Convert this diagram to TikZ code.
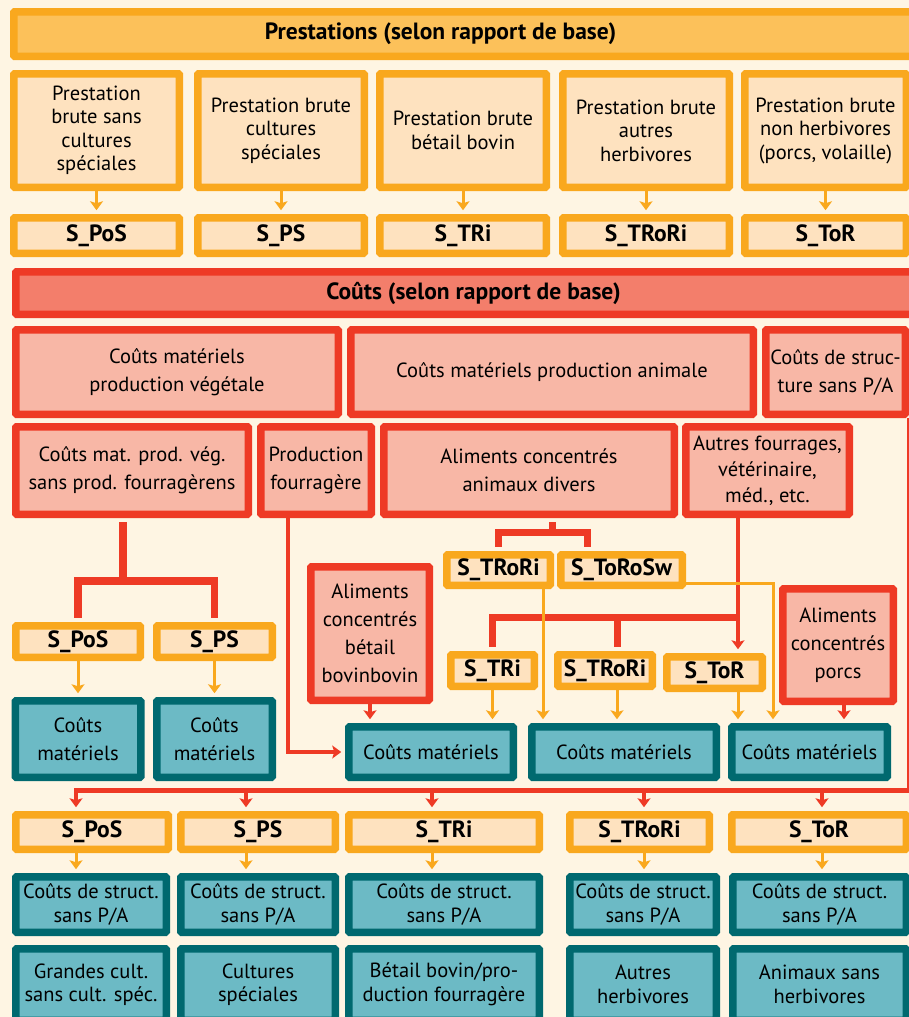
\documentclass[tikz,border=0pt]{standalone}
\usepackage{fontspec}
\setmainfont{PT Sans}
\usetikzlibrary{arrows.meta}

\definecolor{cream}{HTML}{FEF5E3}
\definecolor{orng}{HTML}{F9A81E}
\definecolor{orngh}{HTML}{FCC15A}
\definecolor{peach}{HTML}{FEE2BF}
\definecolor{redd}{HTML}{EE3A25}
\definecolor{redh}{HTML}{F37E6B}
\definecolor{salmon}{HTML}{F8B7A6}
\definecolor{tealdk}{HTML}{00696F}
\definecolor{teall}{HTML}{6CBAC5}

\begin{document}
\begin{tikzpicture}[x=1pt, y=-1pt, >={Stealth[length=9pt, width=13pt, inset=2pt]},
    font=\fontsize{20.5}{23.5}\selectfont,
    box/.style={draw, line width=7.5pt, rounded corners=1pt, align=center, inner sep=0pt},
    sz/.style 2 args={minimum width=#1pt, minimum height=#2pt},
    wide/.style={font=\fontsize{20.5}{28}\selectfont},
    htext/.style={font=\fontsize{23.5}{26}\selectfont\bfseries},
    prest/.style={box, draw=orng, fill=peach},
    code/.style={prest, font=\fontsize{23.5}{26}\selectfont\bfseries},
    cost/.style={box, draw=redd, fill=salmon, wide},
    mat/.style={box, draw=tealdk, fill=teall},
    yarr/.style={->, draw=orng, line width=3pt, shorten >=3.75pt},
    rarr/.style={->, draw=redd, line width=4pt, shorten >=3.75pt},
    rbar/.style={draw=redd, line width=7.5pt, shorten >=3.75pt},
    rline/.style={draw=redd, line width=5pt}]

  \useasboundingbox (0,0) rectangle (909,1017);
  \clip (0,0) rectangle (909,1017);
  \fill[cream] (0,0) rectangle (909,1017);

  % prestations
  \node[box, draw=orng, fill=orngh, sz={917.5}{44.5},
    label={[htext, xshift=-32pt]center:Prestations (selon rapport de base)}] (prest) at (472.5,34) {};
  \node[prest, sz={165.5}{113.5}] (pb1) at (96.5,130.5) {Prestation\\brute sans\\cultures\\spéciales};
  \node[prest, sz={166.5}{113.5}] (pb2) at (281,130.5) {Prestation brute\\cultures\\spéciales};
  \node[prest, sz={166.5}{113.5}] (pb3) at (463,130.5) {Prestation brute\\bétail bovin};
  \node[prest, sz={166.5}{113.5}] (pb4) at (646,130.5) {Prestation brute\\autres\\herbivores};
  \node[prest, sz={161.5}{113.5}] (pb5) at (825.5,130.5) {Prestation brute\\non herbivores\\(porcs, volaille)};

  \node[code, sz={165.5}{35.5}] (s1) at (96.5,235.5) {S\_PoS};
  \node[code, sz={166.5}{35.5}] (s2) at (281,235.5) {S\_PS};
  \node[code, sz={166.5}{35.5}] (s3) at (463,235.5) {S\_TRi};
  \node[code, sz={166.5}{35.5}] (s4) at (646,235.5) {S\_TRoRi};
  \node[code, sz={161.5}{35.5}] (s5) at (825.5,235.5) {S\_ToR};

  \foreach \i in {1,...,5}
    \draw[yarr] (pb\i.south) -- (s\i.north);

  % couts
  \node[box, draw=redd, fill=redh, sz={915.5}{42.5},
    label={[htext]center:Coûts (selon rapport de base)}] (couts) at (473.5,293) {};
  \node[cost, sz={322.5}{84.5}] (cmv) at (177,372) {Coûts matériels\\production végétale};
  \node[cost, sz={402.5}{84.5}] (cma) at (552,372) {Coûts matériels production animale};
  \node[cost, sz={139.5}{84.5}] (cds) at (835.5,372) {Coûts de struc-\\ture sans P/A};

  \node[cost, sz={232.5}{87.5}] (cmpv) at (132,470.5) {Coûts mat. prod. vég.\\sans prod. fourragèrens};
  \node[cost, sz={110.5}{87.5}] (pf) at (316,470.5) {Production\\fourragère};
  \node[cost, sz={290.5}{87.5}] (aca) at (529,470.5) {Aliments concentrés\\animaux divers};
  \node[cost, sz={163.5}{87.5}, font=\fontsize{20.5}{26}\selectfont] (af) at (767.5,470.5) {Autres fourrages,\\vétérinaire,\\méd., etc.};

  \node[cost, sz={118.5}{133.5}] (acb) at (370,633.5) {Aliments\\concentrés\\bétail\\bovinbovin};
  \node[cost, sz={110.5}{112.5}] (acp) at (838,645) {Aliments\\concentrés\\porcs};

  % codes au milieu
  \node[code, sz={103.5}{30.5}] (sU1) at (498.5,570) {S\_TRoRi};
  \node[code, sz={121.5}{30.5}] (sU2) at (621.5,570) {S\_ToRoSw};
  \node[code, sz={124.5}{31.5}] (sL1) at (78,641.5) {S\_PoS};
  \node[code, sz={115.5}{31.5}] (sL2) at (214.5,641.5) {S\_PS};
  \node[code, sz={83.5}{31.5}] (sM1) at (492.5,670.5) {S\_TRi};
  \node[code, sz={94.5}{31.5}] (sM2) at (605,670.5) {S\_TRoRi};
  \node[code, sz={95.5}{31.5}] (sM3) at (714.5,672.5) {S\_ToR};

  \node[mat, wide, sz={125.5}{76.5}] (tL1) at (78,739) {Coûts\\matériels};
  \node[mat, wide, sz={115.5}{76.5}] (tL2) at (214.5,739) {Coûts\\matériels};
  \node[mat, sz={164.5}{50.5}] (tA) at (431,752) {Coûts matériels};
  \node[mat, sz={184.5}{50.5}] (tB) at (624,752) {Coûts matériels};
  \node[mat, sz={155.5}{50.5}] (tC) at (809.5,752) {Coûts matériels};

  \coordinate (j1) at (123,581);
  \coordinate (j2) at (552,532);
  \coordinate (j3) at (738,617);
  \coordinate (j4) at (773,583);

  \draw[rbar] (j1) -- (cmpv.south -| j1);
  \draw[rbar] (j1) -| (sL1.north);
  \draw[rbar] (j1) -| (sL2.north);
  \draw[rbar, line width=7pt] (j2) -- (aca.south -| j2);
  \draw[rbar, line width=7pt] (j2) -| (sU1.north);
  \draw[rbar, line width=7pt] (j2) -| (sU2.north -| 587,0);
  \draw[rarr] (af.south -| j3) -- (sM3.north -| j3);
  \draw[rbar, line width=7pt] (j3) -| (sM1.north);
  \draw[rbar, line width=7pt] (j3 -| 617,0) -- (sM2.north -| 617,0);
  \draw[rarr] (pf.south -| 288,0) |- (tA.west);
  \draw[rarr] (acb.south) -- (tA.north -| acb.south);
  \draw[rarr] (acp.south -| 844,0) -- (tC.north -| 844,0);

  \draw[yarr] (sL1.south) -- (tL1.north);
  \draw[yarr] (sL2.south) -- (tL2.north);
  \draw[yarr] (sM1.south) -- (tA.north -| sM1.south);
  \draw[yarr] (sU1.south -| 543,0) -- (tB.north -| 543,0);
  \draw[yarr] (sM2.south -| 617,0) -- (tB.north -| 617,0);
  \draw[yarr] (sM3.south -| j3) -- (tC.north -| j3);
  \draw[yarr] (sU2.east |- j4) -| (tC.north -| j4);

  % couts de structure
  \node[code, sz={152.5}{34.5}] (sb1) at (92,832) {S\_PoS};
  \node[code, sz={154.5}{34.5}] (sb2) at (258,832) {S\_PS};
  \node[code, sz={190.5}{34.5}] (sb3) at (444,832) {S\_TRi};
  \node[code, sz={139.5}{34.5}] (sb4) at (639.5,832) {S\_TRoRi};
  \node[code, sz={174.5}{34.5}] (sb5) at (819,832) {S\_ToR};

  \node[mat, sz={150.5}{55.5}] (tr1) at (91,904.5) {Coûts de struct.\\sans P/A};
  \node[mat, sz={154.5}{55.5}] (tr2) at (258,904.5) {Coûts de struct.\\sans P/A};
  \node[mat, sz={190.5}{55.5}] (tr3) at (444,904.5) {Coûts de struct.\\sans P/A};
  \node[mat, sz={146.5}{55.5}] (tr4) at (643,904.5) {Coûts de struct.\\sans P/A};
  \node[mat, sz={173.5}{55.5}] (tr5) at (819.5,904.5) {Coûts de struct.\\sans P/A};

  \node[mat, sz={150.5}{71.5}] (tb1) at (91,984.5) {Grandes cult.\\sans cult. spéc.};
  \node[mat, sz={154.5}{71.5}] (tb2) at (258,984.5) {Cultures\\spéciales};
  \node[mat, sz={190.5}{71.5}] (tb3) at (444,984.5) {Bétail bovin/pro-\\duction fourragère};
  \node[mat, sz={146.5}{71.5}] (tb4) at (643,984.5) {Autres\\herbivores};
  \node[mat, sz={173.5}{71.5}] (tb5) at (819.5,984.5) {Animaux sans\\herbivores};

  \coordinate (j5) at (cds.south east |- 0,790);
  \draw[rline] (cds.south east) -- (j5) -- (j5 -| 73.5,0);
  \foreach \n/\x in {1/76, 2/246, 3/432, 4/644, 5/822} {
    \draw[rarr] (j5 -| \x,0) -- (sb\n.north -| \x,0);
    \draw[yarr] (sb\n.south -| \x,0) -- (tr\n.north -| \x,0);
  }
\end{tikzpicture}
\end{document}
